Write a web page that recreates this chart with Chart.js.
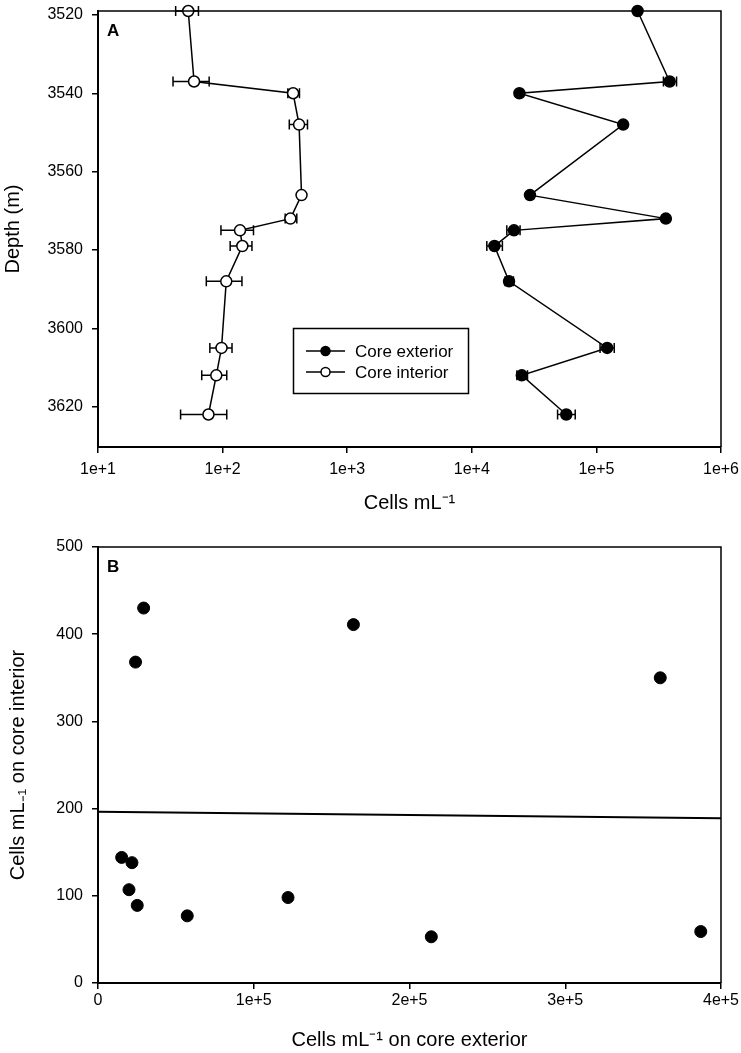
<!DOCTYPE html>
<html>
<head>
<meta charset="utf-8">
<script src="https://cdn.jsdelivr.net/npm/chart.js@4/dist/chart.umd.min.js"></script>
<style>
body { margin: 0; background: #fff; }
canvas { position: absolute; left: 0; }
#panelA { top: 0; }
#panelB { top: 520px; }
</style>
</head>
<body>
<canvas id="panelA" width="741" height="520"></canvas>
<canvas id="panelB" width="741" height="533"></canvas>
<script>
// sample depths (m)
var depth = [3519, 3537, 3540, 3548, 3566, 3572, 3575, 3579, 3588, 3605, 3612, 3622];
// cells per mL, core exterior
var exterior = [214000, 387000, 24100, 164000, 29300, 361000, 21800, 15200, 19900, 122000, 25200, 57300];
var extLo = [214000, 345000, 24100, 164000, 29300, 361000, 19100, 13200, 18500, 107000, 23000, 48800];
var extHi = [214000, 440000, 24100, 164000, 29300, 361000, 24400, 17600, 21600, 139000, 28000, 67600];
// cells per mL, core interior
var interior = [53, 59, 368, 411, 430, 350, 138, 144, 107, 98, 89, 77];
var intLo = [42, 40, 334, 343, 430, 318, 97, 115, 74, 79, 68, 46];
var intHi = [64, 78, 414, 480, 430, 394, 177, 172, 143, 119, 108, 108];

// regression line, panel B
var regX = [0, 400000];
var regY = [196.5, 189];

var depthTicks = [3520, 3540, 3560, 3580, 3600, 3620];
var cellTicks = [10, 100, 1000, 10000, 100000, 1000000];
var cellTickLabels = ['1e+1', '1e+2', '1e+3', '1e+4', '1e+5', '1e+6'];
var extTicks = [0, 100000, 200000, 300000, 400000];
var extTickLabels = ['0', '1e+5', '2e+5', '3e+5', '4e+5'];
var intTicks = [0, 100, 200, 300, 400, 500];

Chart.defaults.font.family = '"Liberation Sans", Arial, sans-serif';
Chart.defaults.color = '#000';
Chart.defaults.animation = false;

function pts(xs, ys) {
    return xs.map(function (x, i) { return { x: x, y: ys[i] }; });
}

var axisGrid = { drawOnChartArea: false, color: '#000', lineWidth: 1.5, tickLength: 6 };
var axisBorder = { color: '#000', width: 2 };

// keep overflowing tick labels from shrinking the plot
function fixX(h) {
    return function (s) { s.height = h; s.paddingLeft = 0; s.paddingRight = 0; };
}
function fixY(s) {
    s.width = 98; s.paddingTop = 0; s.paddingBottom = 0;
}

// horizontal error bars with caps
var errorBars = {
    id: 'errorBars',
    beforeDatasetsDraw: function (chart) {
        var ctx = chart.ctx, xs = chart.scales.x, ys = chart.scales.y;
        ctx.save();
        ctx.strokeStyle = '#000';
        ctx.lineWidth = 1.5;
        chart.data.datasets.forEach(function (ds) {
            if (!ds.errLo) return;
            ds.data.forEach(function (p, i) {
                if (ds.errLo[i] >= ds.errHi[i]) return;
                var y = ys.getPixelForValue(p.y);
                var x1 = xs.getPixelForValue(ds.errLo[i]);
                var x2 = xs.getPixelForValue(ds.errHi[i]);
                ctx.beginPath();
                ctx.moveTo(x1, y); ctx.lineTo(x2, y);
                ctx.moveTo(x1, y - 5); ctx.lineTo(x1, y + 5);
                ctx.moveTo(x2, y - 5); ctx.lineTo(x2, y + 5);
                ctx.stroke();
            });
        });
        ctx.restore();
    }
};

// box round the plot plus panel letter
var frame = {
    id: 'frame',
    afterDraw: function (chart, args, opts) {
        var a = chart.chartArea, ctx = chart.ctx;
        ctx.save();
        ctx.strokeStyle = '#000';
        ctx.lineWidth = 1.5;
        ctx.beginPath();
        ctx.moveTo(a.left, a.top); ctx.lineTo(a.right, a.top); ctx.lineTo(a.right, a.bottom);
        ctx.stroke();
        ctx.font = 'bold 17px "Liberation Sans", Arial, sans-serif';
        ctx.fillStyle = '#000';
        ctx.textBaseline = 'middle';
        ctx.fillText(opts.letter, a.left + 9, a.top + 20);
        ctx.restore();
    }
};

var legendBox = {
    id: 'legendBox',
    afterDraw: function (chart) {
        var ctx = chart.ctx;
        ctx.save();
        ctx.strokeStyle = '#000';
        ctx.lineWidth = 1.5;
        ctx.strokeRect(293.5, 328.5, 175, 65);
        ctx.font = '17px "Liberation Sans", Arial, sans-serif';
        ctx.textBaseline = 'middle';
        chart.data.datasets.forEach(function (ds, i) {
            var y = 351 + i * 21;
            ctx.beginPath();
            ctx.moveTo(306, y); ctx.lineTo(345, y);
            ctx.stroke();
            ctx.beginPath();
            ctx.arc(325.5, y, 4.5, 0, Math.PI * 2);
            ctx.fillStyle = ds.pointBackgroundColor;
            ctx.fill();
            ctx.stroke();
            ctx.fillStyle = '#000';
            ctx.fillText(ds.label, 355, y + 1);
        });
        ctx.restore();
    }
};

new Chart(document.getElementById('panelA'), {
    type: 'scatter',
    data: {
        datasets: [{
            label: 'Core exterior',
            data: pts(exterior, depth),
            errLo: extLo, errHi: extHi,
            showLine: true,
            borderColor: '#000', borderWidth: 1.5,
            pointRadius: 5.5, pointBackgroundColor: '#000', pointBorderColor: '#000',
            clip: false
        }, {
            label: 'Core interior',
            data: pts(interior, depth),
            errLo: intLo, errHi: intHi,
            showLine: true,
            borderColor: '#000', borderWidth: 1.5,
            pointRadius: 5.5, pointBackgroundColor: '#fff', pointBorderColor: '#000', pointBorderWidth: 1.5,
            clip: false
        }]
    },
    options: {
        responsive: false,
        layout: { padding: { top: 11, right: 20, left: 0, bottom: 0 } },
        plugins: { legend: { display: false }, tooltip: { enabled: false }, frame: { letter: 'A' } },
        scales: {
            x: {
                type: 'logarithmic', min: 10, max: 1000000,
                afterBuildTicks: function (s) { s.ticks = cellTicks.map(function (v) { return { value: v }; }); },
                afterFit: fixX(73),
                ticks: { callback: function (v, i) { return cellTickLabels[i]; }, font: { size: 16 }, padding: 7, autoSkip: false, maxRotation: 0 },
                grid: axisGrid, border: axisBorder,
                title: { display: true, text: 'Cells mL\u207B\u00B9', font: { size: 20 }, padding: { top: 0, bottom: 5 } }
            },
            y: {
                type: 'linear', reverse: true, min: 3519, max: 3630.3,
                afterBuildTicks: function (s) { s.ticks = depthTicks.map(function (v) { return { value: v }; }); },
                afterFit: fixY,
                ticks: { callback: function (v) { return String(v); }, font: { size: 16 }, padding: 9 },
                grid: axisGrid, border: axisBorder,
                title: { display: true, text: 'Depth (m)', font: { size: 20 }, padding: { top: 1, bottom: 0 } }
            }
        }
    },
    plugins: [errorBars, frame, legendBox]
});

new Chart(document.getElementById('panelB'), {
    type: 'scatter',
    data: {
        datasets: [{
            data: pts(exterior, interior),
            pointRadius: 6, pointBackgroundColor: '#000', pointBorderColor: '#000',
            clip: false
        }, {
            data: pts(regX, regY),
            showLine: true, borderColor: '#000', borderWidth: 2, pointRadius: 0
        }]
    },
    options: {
        responsive: false,
        layout: { padding: { top: 27, right: 20, left: 0, bottom: 0 } },
        plugins: { legend: { display: false }, tooltip: { enabled: false }, frame: { letter: 'B' } },
        scales: {
            x: {
                type: 'linear', min: 0, max: 400000,
                afterBuildTicks: function (s) { s.ticks = extTicks.map(function (v) { return { value: v }; }); },
                afterFit: fixX(70),
                ticks: { callback: function (v, i) { return extTickLabels[i]; }, font: { size: 16 }, padding: 2, autoSkip: false, maxRotation: 0 },
                grid: axisGrid, border: axisBorder,
                title: { display: true, text: 'Cells mL\u207B\u00B9 on core exterior', font: { size: 20 }, padding: { top: 0, bottom: 1 } }
            },
            y: {
                type: 'linear', min: 0, max: 500,
                afterBuildTicks: function (s) { s.ticks = intTicks.map(function (v) { return { value: v }; }); },
                afterFit: fixY,
                ticks: { callback: function (v) { return String(v); }, font: { size: 16 }, padding: 9 },
                grid: axisGrid, border: axisBorder,
                title: { display: true, text: 'Cells mL\u208B\u2081 on core interior', font: { size: 20 }, padding: { top: 6, bottom: 0 } }
            }
        }
    },
    plugins: [frame]
});
</script>
</body>
</html>
